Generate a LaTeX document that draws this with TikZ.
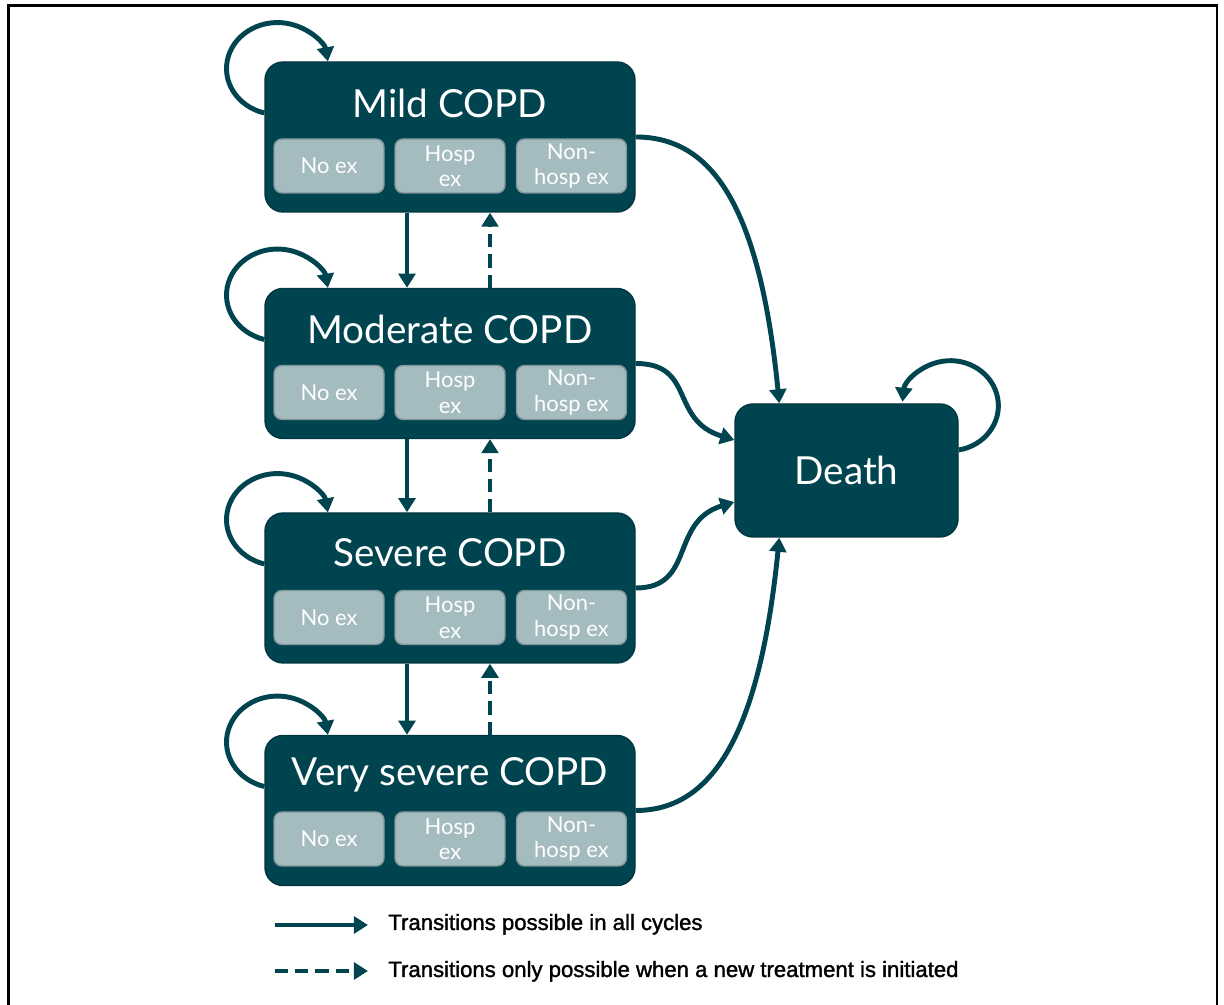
\documentclass[tikz,border=0pt]{standalone}
\usepackage{fontspec}
\setmainfont{Lato}
\newfontfamily\legfont[FakeBold=1.5]{Liberation Sans}
\usetikzlibrary{arrows.meta}
\definecolor{copdteal}{RGB}{0,68,79}
\definecolor{exgrey}{RGB}{164,187,191}
\definecolor{exedge}{RGB}{128,150,154}
\tikzset{
  state/.style={draw=copdteal!80!black, fill=copdteal, rounded corners=0.36cm,
    minimum width=7.4cm, minimum height=3cm, line width=0.8pt},
  title/.style={text=white, font=\fontsize{22}{26}\selectfont},
  exbox/.style={draw=exedge, fill=exgrey, rounded corners=0.16cm, minimum width=2.2cm,
    minimum height=1.08cm, inner sep=0pt, text=white, align=center,
    font=\fontsize{12.5}{14.5}\selectfont, line width=0.8pt},
  arr/.style={draw=copdteal, line width=2.8pt, -{Triangle[length=8pt,width=9.5pt]}},
  dasharr/.style={arr, dash pattern=on 7.5pt off 4pt},
  legtext/.style={anchor=base west, inner sep=0pt, font=\legfont\fontsize{12.6}{14}\selectfont},
}
\begin{document}
\begin{tikzpicture}
    \useasboundingbox (0,0) rectangle (24.48,20.1);
    \draw[line width=1.2pt] (0.17,-0.1) -- (0.17,19.99) -- (24.34,19.99) -- (24.34,-0.1);
    \node[state] (mild) at (9,17.36) {};
    \node[title] (mildt) at (9,18.04) {Mild COPD};
    \node[exbox] (mild1) at (6.58,16.78) {No ex};
    \node[exbox] (mild2) at (9,16.78) {Hosp\\ex};
    \node[exbox] (mild3) at (11.43,16.78) {Non-\\hosp ex};
    \node[state] (moderate) at (9,12.83) {};
    \node[title] (moderatet) at (9,13.51) {Moderate COPD};
    \node[exbox] (moderate1) at (6.58,12.25) {No ex};
    \node[exbox] (moderate2) at (9,12.25) {Hosp\\ex};
    \node[exbox] (moderate3) at (11.43,12.25) {Non-\\hosp ex};
    \node[state] (severe) at (9,8.34) {};
    \node[title] (severet) at (9,9.04) {Severe COPD};
    \node[exbox] (severe1) at (6.58,7.75) {No ex};
    \node[exbox] (severe2) at (9,7.75) {Hosp\\ex};
    \node[exbox] (severe3) at (11.43,7.75) {Non-\\hosp ex};
    \node[state] (vsevere) at (9,3.89) {};
    \node[title] (vseveret) at (9,4.6) {Very severe COPD};
    \node[exbox] (vsevere1) at (6.58,3.32) {No ex};
    \node[exbox] (vsevere2) at (9,3.32) {Hosp\\ex};
    \node[exbox] (vsevere3) at (11.43,3.32) {Non-\\hosp ex};
    \node[state, title, minimum width=4.46cm, minimum height=2.66cm] (death) at (16.93,10.69) {Death};
    \draw[arr] ([yshift=0.48cm]mild.west) arc[start angle=255, end angle=9, x radius=1.02cm, y radius=0.92cm];
    \draw[arr] ([yshift=0.48cm]moderate.west) arc[start angle=255, end angle=9, x radius=1.02cm, y radius=0.92cm];
    \draw[arr] ([yshift=0.48cm]severe.west) arc[start angle=255, end angle=9, x radius=1.02cm, y radius=0.92cm];
    \draw[arr] ([yshift=0.48cm]vsevere.west) arc[start angle=255, end angle=9, x radius=1.02cm, y radius=0.92cm];
    \draw[arr] ([yshift=0.41cm]death.east) arc[start angle=-80, end angle=175, x radius=0.96cm, y radius=0.9cm];
    \draw[arr] ([xshift=-0.86cm]mild.south) -- ([xshift=-0.86cm]moderate.north);
    \draw[arr] ([xshift=-0.86cm]moderate.south) -- ([xshift=-0.86cm]severe.north);
    \draw[arr] ([xshift=-0.86cm]severe.south) -- ([xshift=-0.86cm]vsevere.north);
    \draw[dasharr] ([xshift=0.8cm]moderate.north) -- ([xshift=0.8cm]mild.south);
    \draw[dasharr] ([xshift=0.8cm]severe.north) -- ([xshift=0.8cm]moderate.south);
    \draw[dasharr] ([xshift=0.8cm]vsevere.north) -- ([xshift=0.8cm]severe.south);
    \draw[arr] (mild.east) .. controls +(1.5,0) and +(-0.4,4) .. ([xshift=0.9cm]death.north west);
    \draw[arr] (moderate.east) .. controls +(1.2,0) and +(-1.3,0.4) .. ([yshift=0.61cm]death.west);
    \draw[arr] (severe.east) .. controls +(1.2,0) and +(-1.3,-0.4) .. ([yshift=-0.63cm]death.west);
    \draw[arr] (vsevere.east) .. controls +(1.5,0) and +(-0.4,-4) .. ([xshift=0.9cm]death.south west);
    \coordinate (solida) at (5.5,1.6);
    \coordinate (solidb) at (7.36,1.6);
    \draw[arr] (solida) -- (solidb);
    \node[legtext] (solidtxt) at (7.76,1.5) {Transitions possible in all cycles};
    \coordinate (dasha) at (5.5,0.68);
    \coordinate (dashb) at (7.36,0.68);
    \draw[dasharr] (dasha) -- (dashb);
    \node[legtext] (dashtxt) at (7.76,0.56) {Transitions only possible when a new treatment is initiated};
  \end{tikzpicture}
\end{document}
